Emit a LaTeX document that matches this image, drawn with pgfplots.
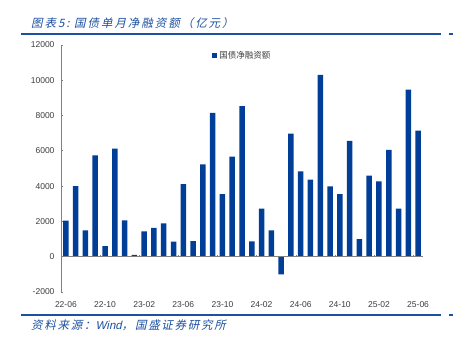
\documentclass[border=0pt]{standalone}
\usepackage{fontspec}
\setmainfont{Liberation Sans}
\newfontfamily\cjk{Noto Sans CJK SC}
\newfontfamily\cjkitw[FakeSlant=0.22, LetterSpace=17]{Noto Sans CJK SC}
\newfontfamily\cjkits[FakeSlant=0.22, LetterSpace=15]{Noto Sans CJK SC}
\newfontfamily\latit[FakeSlant=0.22]{Liberation Sans}
\usepackage{pgfplots}
\pgfplotsset{compat=1.18}
\definecolor{barblue}{RGB}{0,62,152}
\definecolor{titleblue}{RGB}{28,80,160}
\definecolor{axgray}{RGB}{128,128,128}
\definecolor{lblgray}{RGB}{60,60,60}
\begin{document}
\begin{tikzpicture}
\path[use as bounding box] (0pt,0pt) rectangle (453pt,345pt);
\node[anchor=west, text=titleblue, inner sep=0pt, font=\fontsize{11.5}{12}\selectfont\cjkitw] at (31pt,322pt) {图表5:\ 国债单月净融资额（亿元）};
\draw[titleblue, line width=1.2pt] (21pt,311pt) -- (441pt,311pt);
\draw[titleblue, line width=1.2pt] (449pt,311pt) -- (453pt,311pt);
\draw[titleblue, line width=1.2pt] (21pt,30pt) -- (441pt,30pt);
\draw[titleblue, line width=1.2pt] (449pt,30pt) -- (453pt,30pt);
\node[anchor=west, text=titleblue, inner sep=0pt, font=\fontsize{11.5}{12}\selectfont\cjkits] at (31pt,20pt) {资料来源：{\latit Wind}，国盛证券研究所};
\begin{axis}[
  at={(61pt,53pt)}, anchor=south west,
  scale only axis, width=362pt, height=247pt,
  xmin=-0.5, xmax=36.5, ymin=-2000, ymax=12000,
  axis y line*=left, axis x line*=bottom,
  x axis line style={draw=none},
  y axis line style={axgray, line width=0.8pt},
  xtick={0,4,...,36},
  xticklabels={22-06,22-10,23-02,23-06,23-10,24-02,24-06,24-10,25-02,25-06},
  xtick style={draw=none},
  ytick={-2000,0,2000,...,12000},
  tick align=inside,
  ytick style={axgray, line width=0.8pt},
  major tick length=2.5pt,
  scaled y ticks=false,
  /pgf/number format/fixed,
  /pgf/number format/1000 sep={},
  /pgf/number format/assume math mode=true,
  tick label style={font=\fontsize{8.5}{10}\selectfont, text=lblgray},
  xticklabel style={yshift=-4pt},
  yticklabel style={xshift=-3pt},
  ybar, bar width=5.5pt,
  legend style={at={(0.417,0.985)}, anchor=north west, draw=none, fill=none,
    font=\fontsize{8.5}{10}\selectfont\cjk, text=lblgray, inner sep=0pt},
  legend image code/.code={\fill[barblue] (0pt,-2.6pt) rectangle (5.2pt,2.6pt);},
]
\addplot[fill=barblue, draw=none] coordinates {
(0,2050) (1,4000) (2,1490) (3,5750) (4,600) (5,6120) (6,2060) (7,100)
(8,1440) (9,1640) (10,1890) (11,850) (12,4120) (13,890) (14,5240) (15,8150)
(16,3550) (17,5670) (18,8540) (19,870) (20,2720) (21,1490) (22,-1000) (23,6980)
(24,4840) (25,4370) (26,10300) (27,3990) (28,3550) (29,6560) (30,1000) (31,4590)
(32,4270) (33,6050) (34,2720) (35,9470) (36,7150)};
\addlegendentry{国债净融资额}
\draw[axgray, line width=0.8pt] (axis cs:-0.5,0) -- (axis cs:36.5,0);
\pgfplotsinvokeforeach{3.5,7.5,11.5,15.5,19.5,23.5,27.5,31.5,35.5}{\draw[axgray, line width=0.6pt] (axis cs:#1,0) -- ++(0pt,2pt);}
\end{axis}
\end{tikzpicture}
\end{document}
